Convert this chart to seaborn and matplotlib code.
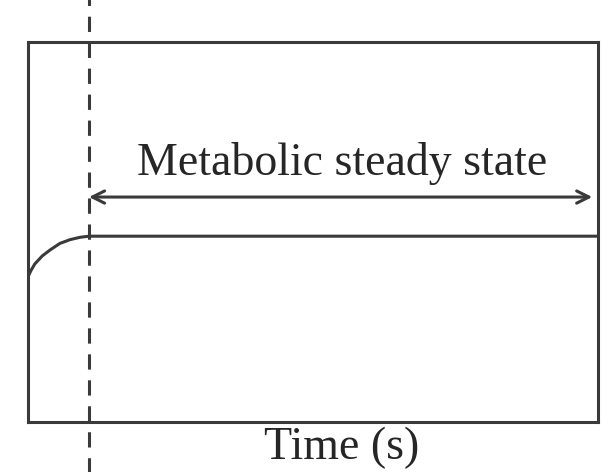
import numpy as np
import pandas as pd
import seaborn as sns
import matplotlib.pyplot as plt

# curve (axes fractions)
time = [0.0, 0.005, 0.012, 0.025, 0.039, 0.056, 0.074, 0.091, 0.107, 1.0]
level = [0.382, 0.398, 0.416, 0.437, 0.453, 0.470, 0.480, 0.486, 0.489, 0.489]
steady_start = 0.107
steady_end = 0.99
arrow_y = 0.592
label = "Metabolic steady state"
xlabel = "Time (s)"

sns.set_style("white")
plt.rcParams['font.family'] = ['Liberation Serif', 'DejaVu Serif']

ink = "#3a3a3a"
fig = plt.figure(figsize=(6.03, 4.72), dpi=100)
ax = fig.add_axes([0.0464, 0.1059, 0.9453, 0.8051])

df = pd.DataFrame({"time": time, "level": level})
sns.lineplot(data=df, x="time", y="level", ax=ax, color=ink, linewidth=2.2, sort=False)

ax.axvline(steady_start, ymin=-0.14, ymax=1.12, color=ink, linewidth=2.2,
           linestyle=(0, (5, 3.5)), clip_on=False)
ax.annotate("", xy=(steady_start, arrow_y), xytext=(steady_end, arrow_y),
            arrowprops=dict(arrowstyle="<->", color=ink, lw=2.2, mutation_scale=22,
                            shrinkA=0, shrinkB=0))
ax.text(0.551, 0.68, label, ha="center", va="center",
        fontsize=33, color="#262626")

ax.set_xlim(0, 1)
ax.set_ylim(0, 1)
ax.set_xticks([])
ax.set_yticks([])
ax.set_xlabel(xlabel, fontsize=33, color="#262626", labelpad=0)
ax.xaxis.set_label_coords(0.551, -0.097)
ax.xaxis.label.set_va("baseline")
ax.set_ylabel("")
for s in ax.spines.values():
    s.set_color(ink)
    s.set_linewidth(2.2)

fig.savefig("out.png", dpi=100)
